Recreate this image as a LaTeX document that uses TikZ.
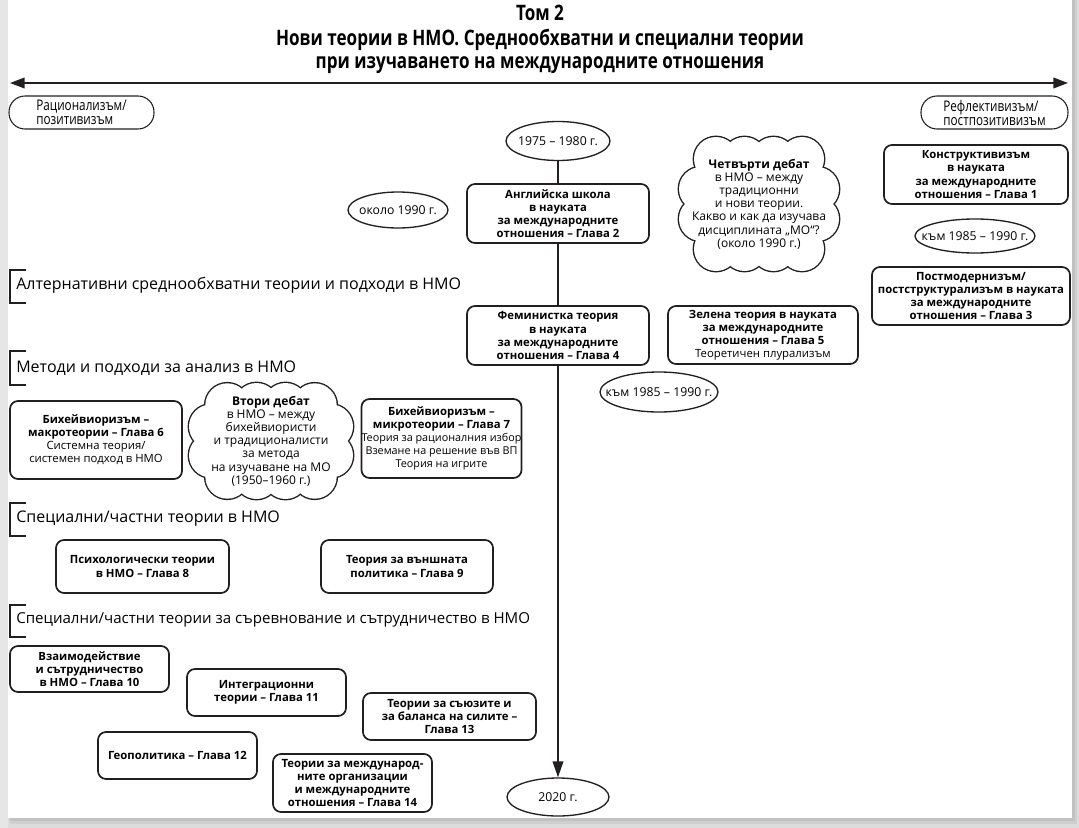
\documentclass[tikz,border=0pt]{standalone}
\usepackage{fontspec}
\setmainfont{Open Sans}
\newfontfamily\condfont{Open Sans}[FakeStretch=0.8]
\usetikzlibrary{shapes.geometric,arrows.meta}
\definecolor{linec}{HTML}{231F20}
\definecolor{pagebg}{HTML}{DCDCDC}
\definecolor{stripbg}{HTML}{E6E6E6}
\newcommand{\rg}{\mdseries}
\newcommand{\ovt}[1]{\makebox[0pt]{#1}}
% cloud = union of puffs: cx, cy, r, puff offsets, inner half-sizes (ax, by, ax2, by2)
\newcommand{\puffcloud}[7]{%
  \foreach \px/\py in {#4} {\draw[linec,line width=2.1pt] ({#1+\px},{#2+\py}) circle (#3);}%
  \foreach \px/\py in {#4} {\fill[white] ({#1+\px},{#2+\py}) circle (#3);}%
  \fill[white] ({#1-#5},{#2-#6}) rectangle ({#1+#5},{#2+#6});%
  \fill[white] ({#1-#7},{#2-#6*0.4}) rectangle ({#1+#7},{#2+#6*0.4});%
}
\begin{document}
\begin{tikzpicture}[x=0.75pt,y=-0.75pt,
  sz/.style 2 args={minimum width=#1*0.75pt, minimum height=#2*0.75pt},
  box/.style={draw=linec, line width=1.3pt, rounded corners=6pt, align=center, inner sep=0pt,
    font=\bfseries\fontsize{8.5}{9.8}\selectfont},
  capsule/.style={draw=linec, line width=0.8pt, rounded corners=12pt, align=left, inner sep=0pt,
    font=\condfont\fontsize{11}{10.5}\selectfont},
  oval/.style={ellipse, draw=linec, line width=1pt, inner sep=0pt, font=\fontsize{9.2}{11}\selectfont},
  cloudtxt/.style={align=center, inner sep=0pt, font=\fontsize{9}{9.9}\selectfont},
  head/.style={anchor=west, inner sep=0pt, font=\fontsize{12}{14}\selectfont},
  brk/.style={line width=0.9pt, draw=linec},
  title/.style={font=\condfont\bfseries\fontsize{16}{18}\selectfont},
  axis/.style={line width=1.2pt, draw=linec}
]
% page and background
\useasboundingbox (0,0) rectangle (1079,828);
\fill[pagebg] (0,0) rectangle (1079,828);
\fill[stripbg] (0,0) rectangle (8,828);
\fill[black,opacity=0.06] (10,0) rectangle (1077,824);
\fill[black,opacity=0.06] (9,0) rectangle (1075,821);
\fill[white] (8,0) rectangle (1072,818);

% title
\node[title] (t1) at (540,13) {Том 2};
\node[title] (t2) at (540,40) {Нови теории в НМО. Среднообхватни и специални теории};
\node[title] (t3) at (540,65) {при изучаването на международните отношения};

% axis
\coordinate (al) at (10,83);
\coordinate (ar) at (1068,83);
\draw[axis, {Triangle[width=8pt,length=11pt]}-{Triangle[width=8pt,length=11pt]}] (al) -- (ar);

\node[capsule, sz={145}{33}] (rat) at (81.5,112.5) {Рационализъм/\\позитивизъм};
\node[capsule, sz={147}{33}] (ref) at (994.5,112.5) {Рефлективизъм/\\постпозитивизъм};

% timeline
\node[oval, sz={104}{39}] (e1975) at (558,141) {\ovt{1975 – 1980 г.}};
\node[box, sz={182}{59}] (eng) at (558,213.5) {Английска школа\\в науката\\за международните\\отношения – Глава 2};
\node[oval, sz={100}{36}] (e1990) at (398,210) {\ovt{около 1990 г.}};
\node[box, sz={182}{59}] (fem) at (558,335.5) {Феминистка теория\\в науката\\за международните\\отношения – Глава 4};
\node[oval, sz={102}{38}] (e2020) at (558,797) {\ovt{2020 г.}};
\draw[axis] (e1975) -- (eng);
\draw[axis] (eng) -- (fem);
\draw[axis, -{Triangle[width=8pt,length=12pt]}] (fem) -- (e2020);

% right column
\puffcloud{759}{204}{22}{-14.5/-45,14.5/-45,43/-45,58/-15,58/15,43/45,14.5/45,-14.5/45,-43/45,-58/15,-58/-15,-43/-45}{43}{45}{58}
\node[cloudtxt] (c4t) at (759,204) {\textbf{Четвърти дебат}\\в НМО – между\\традиционни\\и нови теории.\\Какво и как да изучава\\дисциплината „МО“?\\(около 1990 г.)};
\node[box, sz={184}{59}] (kon) at (976,174.5) {Конструктивизъм\\в науката\\за международните\\отношения – Глава 1};
\node[oval, sz={120}{34}] (k1) at (975,236) {\ovt{към 1985 – 1990 г.}};
\node[box, sz={198}{58}] (post) at (971,296) {Постмодернизъм/\\постструктурализъм в науката\\за международните\\отношения – Глава 3};
\node[box, sz={190}{58}] (green) at (763,335) {Зелена теория в науката\\за международните\\отношения – Глава 5\\\rg Теоретичен плурализъм};
\node[oval, sz={118}{40}] (k2) at (659,392) {\ovt{към 1985 – 1990 г.}};

% headings
\draw[brk] (26,270) -- (10,270) -- (10,303) -- (26,303);
\node[head] (h1) at (16,285) {Алтернативни среднообхватни теории и подходи в НМО};
\draw[brk] (26,351) -- (10,351) -- (10,385) -- (26,385);
\node[head] (h2) at (16,368) {Методи и подходи за анализ в НМО};
\draw[brk] (26,503) -- (10,503) -- (10,536) -- (26,536);
\node[head] (h3) at (16,519) {Специални/частни теории в НМО};
\draw[brk] (26,605) -- (10,605) -- (10,637) -- (26,637);
\node[head, font=\fontsize{11.3}{14}\selectfont] (h4) at (16,620) {Специални/частни теории за съревнование и сътрудничество в НМО};

% methods
\node[box, sz={172}{78}] (macro) at (96,440) {Бихейвиоризъм –\\макротеории – Глава 6\\\rg Системна теория/\\\rg системен подход в НМО};
\puffcloud{271}{441}{22}{-14.5/-36,14.5/-36,43.7/-35.7,60/-14.5,60/14.5,43.7/35.7,14.5/36,-14.5/36,-43.7/35.7,-60/14.5,-60/-14.5,-43.7/-35.7}{43.7}{36}{60}
\node[cloudtxt] (c2t) at (271,441) {\textbf{Втори дебат}\\в НМО – между\\бихейвиористи\\и традиционалисти\\за метода\\на изучаване на МО\\(1950–1960 г.)};
\node[box, sz={160}{79}] (micro) at (441.5,438.5) {Бихейвиоризъм –\\микротеории – Глава 7\\\rg\fontsize{8.1}{9.8}\selectfont Теория за рационалния избор\\\rg\fontsize{8.1}{9.8}\selectfont Вземане на решение във ВП\\\rg\fontsize{8.1}{9.8}\selectfont Теория на игрите};

% special theories
\node[box, sz={173}{53}] (psy) at (142.5,566.5) {Психологически теории\\в НМО – Глава 8};
\node[box, sz={172}{53}] (fp) at (407,566.5) {Теория за външната\\политика – Глава 9};

% competition and cooperation
\node[box, sz={159}{46}] (vz) at (89.5,669) {Взаимодействие\\и сътрудничество\\в НМО – Глава 10};
\node[box, sz={159}{47}] (integ) at (266.5,692.5) {Интеграционни\\теории – Глава 11};
\node[box, sz={173}{47}] (alli) at (449.5,716.5) {Теории за съюзите и\\за баланса на силите –\\Глава 13};
\node[box, sz={159}{47}] (geo) at (177.5,755.5) {Геополитика – Глава 12};
\node[box, sz={159}{58}] (io) at (352.5,783) {Теории за международ-\\ните организации\\и международните\\отношения – Глава 14};
\end{tikzpicture}
\end{document}
